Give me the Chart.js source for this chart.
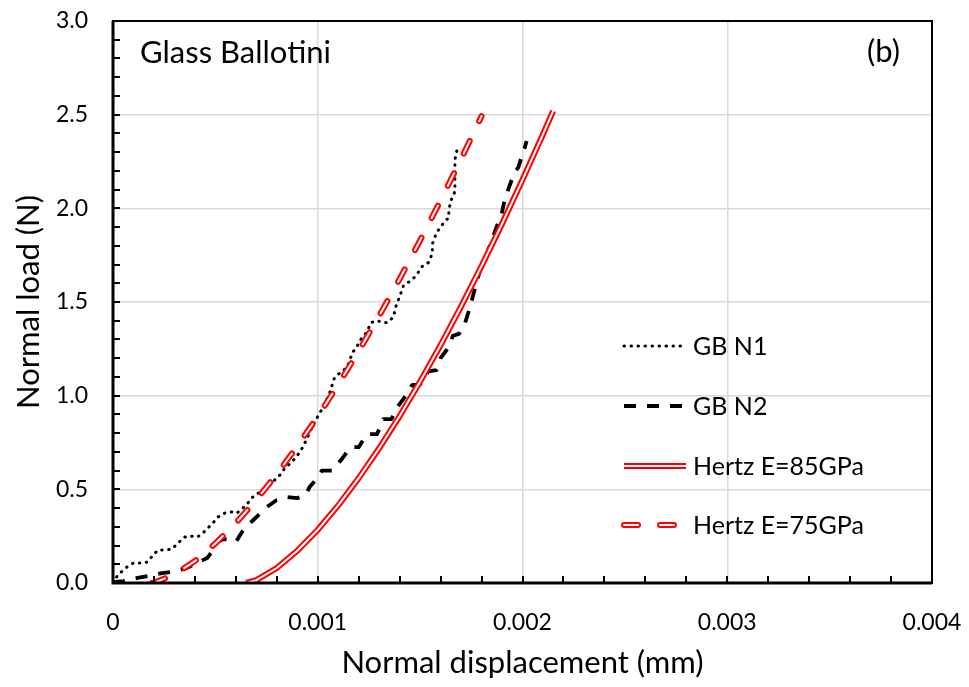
<!DOCTYPE html>
<html><head><meta charset="utf-8">
<script src="https://cdn.jsdelivr.net/npm/chart.js@4"></script>
<style>html,body{margin:0;padding:0;background:#fff}#wrap{width:969px;height:687px;position:relative}</style>
</head><body><div id="wrap"><canvas id="c" width="969" height="687"></canvas></div>
<script>
// ---- data (displacement mm, load N) ----
const gbN1 = [
[0,0],[0.000024,0.043],[0.000068,0.085],[0.0001,0.107],[0.00014,0.107],[0.00017,0.112],
[0.000195,0.149],[0.00022,0.176],[0.000254,0.176],[0.000288,0.181],[0.000317,0.213],
[0.00035,0.245],[0.000376,0.251],[0.00041,0.245],[0.000434,0.261],[0.000463,0.293],
[0.000488,0.32],[0.000512,0.352],[0.000546,0.373],[0.00058,0.379],[0.000605,0.373],
[0.000634,0.4],[0.000659,0.427],[0.000683,0.459],[0.000717,0.485],[0.000751,0.507],
[0.00078,0.539],[0.000815,0.576],[0.000839,0.613],[0.000873,0.645],[0.000902,0.683],
[0.000927,0.725],[0.000951,0.779],[0.000976,0.843],[0.00101,0.907],[0.00104,0.97],
[0.00106,1.02],[0.00108,1.09],[0.0011,1.115],[0.00112,1.125],[0.00115,1.17],
[0.00117,1.23],[0.00119,1.26],[0.00121,1.30],[0.00124,1.34],[0.00126,1.39],
[0.00129,1.40],[0.00132,1.39],[0.00134,1.39],[0.00137,1.42],[0.00138,1.47],
[0.0014,1.53],[0.00142,1.59],[0.00145,1.61],[0.00148,1.64],[0.00151,1.69],
[0.00154,1.71],[0.00156,1.76],[0.00156,1.81],[0.00158,1.87],[0.0016,1.90],
[0.00162,1.93],[0.00164,1.95],[0.00164,1.99],[0.00165,2.04],[0.00167,2.09],
[0.00167,2.15],[0.00167,2.20],[0.00167,2.26],[0.00168,2.31]
];
const gbN2 = [
[0,0.005],[0.00005,0.01],[0.00012,0.027],[0.00017,0.037],[0.00024,0.053],[0.00029,0.059],
[0.00036,0.08],[0.00041,0.107],[0.00046,0.133],[0.00049,0.176],[0.00051,0.219],
[0.00054,0.235],[0.00057,0.229],[0.0006,0.219],[0.00063,0.272],[0.00066,0.309],
[0.0007,0.352],[0.00075,0.405],[0.0008,0.443],[0.00085,0.459],[0.0009,0.453],
[0.00094,0.469],[0.00096,0.512],[0.00099,0.55],[0.00102,0.60],[0.00107,0.60],
[0.00112,0.665],[0.00116,0.725],[0.0012,0.725],[0.00124,0.795],[0.00129,0.795],
[0.00132,0.875],[0.00136,0.875],[0.00139,0.94],[0.00143,1.0],[0.00146,1.056],
[0.0015,1.06],[0.00154,1.13],[0.00158,1.136],[0.0016,1.2],[0.00164,1.26],
[0.00166,1.32],[0.00169,1.33],[0.00172,1.39],[0.00174,1.46],[0.00176,1.54],
[0.00179,1.66],[0.0018,1.69],[0.00183,1.77],[0.00185,1.83],[0.00188,1.92],
[0.0019,1.98],[0.00191,2.03],[0.00193,2.10],[0.00196,2.19],[0.00198,2.22],
[0.002,2.29],[0.00201,2.32],[0.00202,2.36]
];
const hertz85 = [
[0.00065,0],[0.0007,0.015],[0.0008,0.080],[0.0009,0.172],[0.001,0.284],[0.0011,0.414],
[0.0012,0.560],[0.0013,0.719],[0.0014,0.891],[0.0015,1.075],[0.0016,1.270],
[0.0017,1.476],[0.0018,1.692],[0.0019,1.917],[0.002,2.152],[0.0021,2.395],[0.00215,2.52]
];
const hertz75 = [
[0.00019,0],[0.0002,0.001],[0.0003,0.045],[0.0004,0.117],[0.0005,0.211],[0.0006,0.320],
[0.0007,0.444],[0.0008,0.581],[0.0009,0.730],[0.001,0.889],[0.0011,1.059],[0.0012,1.238],
[0.0013,1.426],[0.0014,1.623],[0.0015,1.829],[0.0016,2.042],[0.0017,2.263],[0.0018,2.492]
];
const seriesNames = ['GB N1','GB N2','Hertz E=85GPa','Hertz E=75GPa'];
const xAxisTitle = 'Normal displacement (mm)';
const yAxisTitle = 'Normal load (N)';
const panelTitle = 'Glass Ballotini';
const panelTag = '(b)';

const FONT = 'Lato';
const toXY = a => a.map(p => ({x: p[0], y: p[1]}));
const RED = '#ff0000';

const styles = {
  n1: {color:'#000', width:3, dash:[0.5,6.5], cap:'round'},
  n2: {color:'#000', width:3.8, dash:[12,11], cap:'butt'},
  h85: {color:RED, width:6, dash:[], cap:'butt', inner:2},
  h75: {color:RED, width:6, dash:[14,22], cap:'round', inner:2}
};

function ds(data, st, order, white) {
  return {
    data: toXY(data), showLine: true, fill: false, pointRadius: 0, tension: 0,
    borderColor: white ? '#fff' : st.color,
    borderWidth: white ? st.inner : st.width,
    borderDash: st.dash, borderCapStyle: st.cap, borderJoinStyle: 'round', order
  };
}

const overlay = {
  id: 'overlay',
  afterDatasetsDraw(chart) {
    const {ctx, chartArea: a, scales: {x, y}} = chart;
    ctx.save();
    ctx.strokeStyle = '#000'; ctx.lineWidth = 2;
    ctx.beginPath();
    for (let i = 1; i < 20; i++) {
      const px = Math.round(x.getPixelForValue(i * 0.0002));
      ctx.moveTo(px, a.bottom); ctx.lineTo(px, a.bottom - 7);
    }
    for (let i = 1; i < 30; i++) {
      const py = Math.round(y.getPixelForValue(i * 0.1));
      ctx.moveTo(a.left, py); ctx.lineTo(a.left + 7, py);
    }
    ctx.stroke();
    ctx.lineWidth = 2;
    ctx.strokeRect(a.left, a.top, a.right - a.left, a.bottom - a.top);
    ctx.lineWidth = 3;
    ctx.beginPath();
    ctx.moveTo(a.left, a.top); ctx.lineTo(a.left, a.bottom); ctx.lineTo(a.right, a.bottom);
    ctx.stroke();
    ctx.fillStyle = '#000'; ctx.textBaseline = 'middle';
    ctx.font = '31px ' + FONT; ctx.textAlign = 'left';
    ctx.fillText(panelTitle, a.left + 27, a.top + 32);
    ctx.textAlign = 'right';
    ctx.fillText(panelTag, a.right - 32, a.top + 31);
    const rows = [[styles.n1, 0], [styles.n2, 1], [styles.h85, 2], [styles.h75, 3]];
    const ys = [346, 406, 466, 525];
    rows.forEach(([st, i]) => {
      const yy = ys[i];
      const x0 = 624, x1 = (i === 3) ? 680 : 686;
      ctx.setLineDash(st.dash); ctx.lineCap = st.cap;
      ctx.strokeStyle = st.color; ctx.lineWidth = st.width;
      ctx.beginPath(); ctx.moveTo(x0, yy); ctx.lineTo(x1, yy); ctx.stroke();
      if (st.inner) {
        ctx.strokeStyle = '#fff'; ctx.lineWidth = st.inner;
        ctx.beginPath(); ctx.moveTo(x0, yy); ctx.lineTo(x1, yy); ctx.stroke();
      }
      ctx.setLineDash([]);
      ctx.fillStyle = '#000'; ctx.textAlign = 'left'; ctx.textBaseline = 'middle';
      ctx.font = '25px ' + FONT;
      ctx.fillText(seriesNames[i], 693, yy + 1);
    });
    ctx.restore();
  }
};

new Chart(document.getElementById('c'), {
  type: 'scatter',
  data: {
    datasets: [
      ds(hertz85, styles.h85, 0, true),
      ds(hertz85, styles.h85, 1, false),
      ds(hertz75, styles.h75, 2, true),
      ds(hertz75, styles.h75, 3, false),
      ds(gbN2, styles.n2, 4, false),
      ds(gbN1, styles.n1, 5, false)
    ]
  },
  options: {
    responsive: false, animation: false, devicePixelRatio: 1, events: [],
    layout: {padding: {top: 21, right: 37, left: 0, bottom: 0}},
    plugins: {legend: {display: false}, tooltip: {enabled: false}},
    scales: {
      x: {
        type: 'linear', min: 0, max: 0.004,
        afterFit: s => { s.height = 104; s.paddingLeft = 0; s.paddingRight = 0; },
        ticks: {stepSize: 0.001, color: '#000', padding: 26, font: {family: FONT, size: 23},
          callback: v => v === 0 ? '0' : v.toFixed(3)},
        grid: {color: '#d9d9d9', lineWidth: 1.5, drawTicks: false},
        border: {display: false},
        title: {display: true, text: xAxisTitle, color: '#000', font: {family: FONT, size: 31}, padding: {top: 0, bottom: 5}}
      },
      y: {
        type: 'linear', min: 0, max: 3,
        afterFit: s => { s.width = 113; s.paddingTop = 0; s.paddingBottom = 0; },
        ticks: {stepSize: 0.5, color: '#000', padding: 25, font: {family: FONT, size: 23},
          callback: v => v.toFixed(1)},
        grid: {color: '#d9d9d9', lineWidth: 1.5, drawTicks: false},
        border: {display: false},
        title: {display: true, text: yAxisTitle, color: '#000', font: {family: FONT, size: 31}, padding: {top: 10, bottom: 0}}
      }
    }
  },
  plugins: [overlay]
});
</script></body></html>
